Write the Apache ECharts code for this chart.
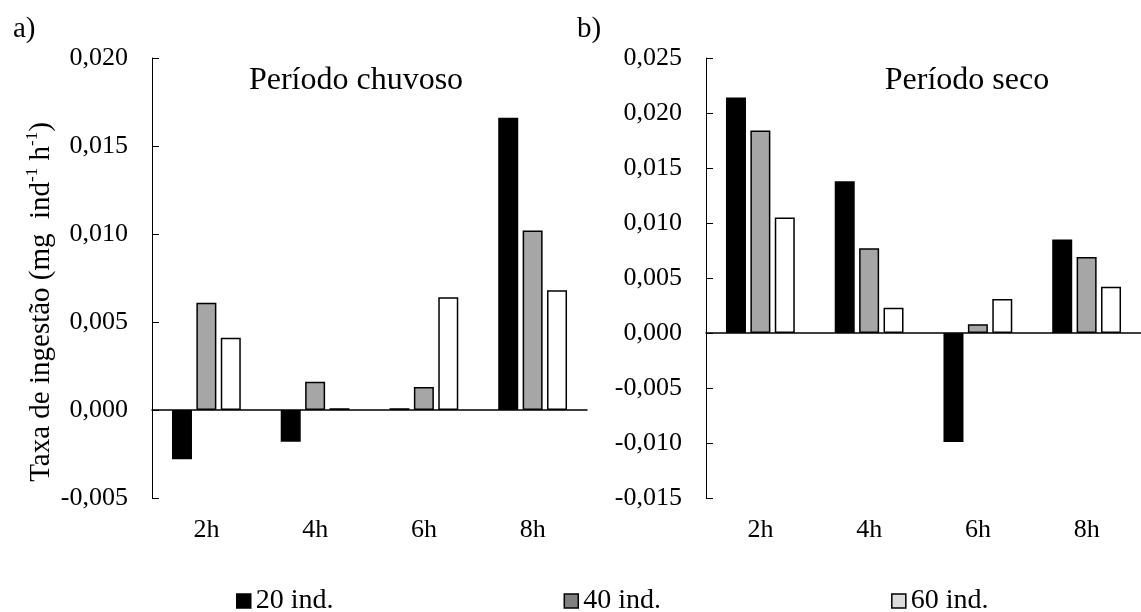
<!DOCTYPE html>
<html>
<head>
<meta charset="utf-8">
<script src="https://cdn.jsdelivr.net/npm/echarts@6/dist/echarts.min.js"></script>
<style>
  html, body { margin: 0; padding: 0; background: #fff; }
  #chart { width: 1141px; height: 612px; }
</style>
</head>
<body>
<div id="chart"></div>
<script>
const categories = ['2h', '4h', '6h', '8h'];
const seriesNames = ['20 ind.', '40 ind.', '60 ind.'];

// a) Período chuvoso
const chuvoso20 = [-0.0028, -0.0018, 0.0001, 0.0166];
const chuvoso40 = [0.0061, 0.0016, 0.0013, 0.0102];
const chuvoso60 = [0.0041, 0.0001, 0.0064, 0.0068];

// b) Período seco
const seco20 = [0.0214, 0.0138, -0.0099, 0.0085];
const seco40 = [0.0184, 0.0077, 0.0008, 0.0069];
const seco60 = [0.0105, 0.0023, 0.0031, 0.0042];

const font = 'Liberation Serif';
const colors = ['#000000', '#a6a6a6', '#ffffff'];
const legendColors = ['#000000', '#808080', '#dcdcdc'];

const fmt = v => v.toFixed(3).replace('.', ',');

function yAxisFor(gridIndex, min, max) {
  return {
    type: 'value',
    gridIndex: gridIndex,
    min: min,
    max: max,
    interval: 0.005,
    splitLine: { show: false },
    axisLine: { show: true, lineStyle: { color: '#000', width: 1 } },
    axisTick: { show: true, inside: true, length: 7, lineStyle: { color: '#000' } },
    axisLabel: { formatter: fmt, color: '#000', fontFamily: font, fontSize: 26, margin: 24 }
  };
}

function bar(name, data, idx, axisIdx) {
  return {
    name: name,
    type: 'bar',
    xAxisIndex: axisIdx,
    yAxisIndex: axisIdx === 0 ? 0 : 1,
    data: data,
    barWidth: 20,
    barGap: '22%',
    itemStyle: { color: colors[idx], borderColor: '#000', borderWidth: 1.5 }
  };
}

const chart = echarts.init(document.getElementById('chart'));
chart.setOption({
  backgroundColor: '#fff',
  animation: false,
  title: [
    { text: 'a)', left: 8, top: 10, textStyle: { fontFamily: font, fontSize: 29, fontWeight: 'normal', color: '#000' } },
    { text: 'b)', left: 572, top: 10, textStyle: { fontFamily: font, fontSize: 29, fontWeight: 'normal', color: '#000' } },
    { text: 'Período chuvoso', left: 351, top: 60, textAlign: 'center', textStyle: { fontFamily: font, fontSize: 32, fontWeight: 'normal', color: '#000' } },
    { text: 'Período seco', left: 962, top: 60, textAlign: 'center', textStyle: { fontFamily: font, fontSize: 32, fontWeight: 'normal', color: '#000' } }
  ],
  legend: {
    data: seriesNames.map((n, i) => ({ name: n, itemStyle: { color: legendColors[i], borderColor: '#000', borderWidth: 1.5 } })),
    left: 231,
    top: 582,
    itemWidth: 14,
    itemHeight: 14,
    itemGap: 230,
    icon: 'rect',
    textStyle: { fontFamily: font, fontSize: 28, color: '#000' }
  },
  grid: [
    { left: 152, top: 58, width: 435, height: 440 },
    { left: 706, top: 58, width: 442, height: 440 }
  ],
  xAxis: [
    // zero lines
    { type: 'category', gridIndex: 0, data: categories, position: 'top',
      axisLine: { onZero: true, lineStyle: { color: '#000', width: 1.5 } },
      axisTick: { show: false }, axisLabel: { show: false } },
    { type: 'category', gridIndex: 1, data: categories, position: 'top',
      axisLine: { onZero: true, lineStyle: { color: '#000', width: 1.5 } },
      axisTick: { show: false }, axisLabel: { show: false } },
    // category labels at the bottom
    { type: 'category', gridIndex: 0, data: categories, position: 'bottom',
      axisLine: { show: false, onZero: false }, axisTick: { show: false },
      axisLabel: { color: '#000', fontFamily: font, fontSize: 26, margin: 19 } },
    { type: 'category', gridIndex: 1, data: categories, position: 'bottom',
      axisLine: { show: false, onZero: false }, axisTick: { show: false },
      axisLabel: { color: '#000', fontFamily: font, fontSize: 26, margin: 19 } }
  ],
  yAxis: [
    yAxisFor(0, -0.005, 0.02),
    yAxisFor(1, -0.015, 0.025)
  ],
  graphic: [
    {
      type: 'text',
      x: 40,
      y: 302,
      rotation: Math.PI / 2,
      style: {
        text: '{a|Taxa de ingestão (mg  ind}{s|-1}{a| h}{s|-1}{a|)}',
        align: 'center',
        verticalAlign: 'middle',
        fill: '#000',
        rich: {
          a: { fontFamily: font, fontSize: 29, lineHeight: 32, fill: '#000', verticalAlign: 'bottom' },
          s: { fontFamily: font, fontSize: 17, lineHeight: 32, fill: '#000', verticalAlign: 'top' }
        }
      }
    }
  ],
  series: [
    bar(seriesNames[0], chuvoso20, 0, 0),
    bar(seriesNames[1], chuvoso40, 1, 0),
    bar(seriesNames[2], chuvoso60, 2, 0),
    bar(seriesNames[0], seco20, 0, 1),
    bar(seriesNames[1], seco40, 1, 1),
    bar(seriesNames[2], seco60, 2, 1)
  ]
});
</script>
</body>
</html>
